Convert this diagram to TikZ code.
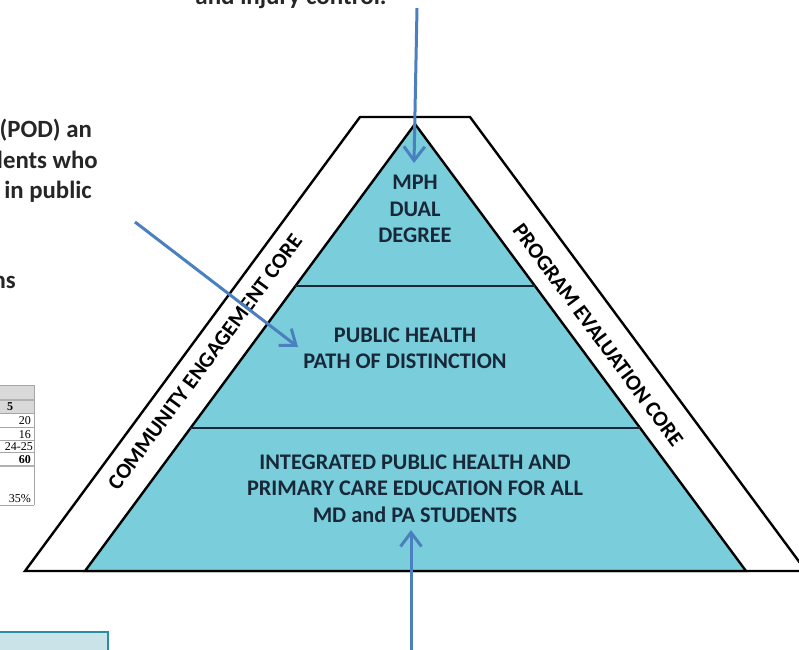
\documentclass[tikz,border=0pt]{standalone}
\usepackage{fontspec}
\setmainfont{Carlito}
\newfontfamily\tabfont{Liberation Serif}
\usetikzlibrary{arrows.meta}
\definecolor{teal1}{RGB}{122,205,218}
\definecolor{navy}{RGB}{24,40,56}
\definecolor{arrowblue}{RGB}{74,128,190}
\definecolor{boxfill}{RGB}{201,227,232}
\definecolor{boxline}{RGB}{42,141,163}
\definecolor{darktext}{RGB}{38,38,38}
\tikzset{
  outline/.style={draw=black, line width=2.4pt, line join=miter},
  divider/.style={draw=navy, line width=2.4pt},
  lvl/.style={font=\bfseries\fontsize{22.3}{26.3}\selectfont, text=navy, align=center, inner sep=0pt},
  core/.style={font=\bfseries\fontsize{21.8}{24}\selectfont, text=black, inner sep=0pt},
  side/.style={font=\bfseries\fontsize{24.8}{26}\selectfont, text=darktext, inner sep=0pt, anchor=base east},
  ptr/.style={draw=arrowblue, line width=3pt, -{Straight Barb[length=14pt,width=21pt]}},
  tcell/.style={draw=gray!70, line width=0.8pt},
  tnum/.style={font=\tabfont\fontsize{12}{12}\selectfont, inner sep=0pt, anchor=base east}
}
\begin{document}
\begin{tikzpicture}[x=1pt,y=-1pt]
\useasboundingbox (0,0) rectangle (799,649);
\begin{scope}
\clip (0,0) rectangle (799,649);
% outer band
\path[outline, fill=white] (25,571) -- (360,117) -- (470,117) -- (806,571) -- cycle;
% inner pyramid
\path[outline, fill=teal1] (85,571) -- (415,124) -- (746,571) -- cycle;
\coordinate (d1l) at (295,286); \coordinate (d1r) at (535,286);
\coordinate (d2l) at (190,428); \coordinate (d2r) at (640,428);
\draw[divider] (d1l) -- (d1r);
\draw[divider] (d2l) -- (d2r);
\draw[outline] (25,571) -- (806,571);

% level texts
\node[lvl] (top) at (415,209) {MPH\\DUAL\\DEGREE};
\node[lvl] (mid) at (405,348.5) {PUBLIC HEALTH\\PATH OF DISTINCTION};
\node[lvl] (bot) at (415,488.5) {INTEGRATED PUBLIC HEALTH AND\\PRIMARY CARE EDUCATION FOR ALL\\MD and PA STUDENTS};

% side bands
\node[core, rotate=53.5] (cec) at (205,362) {COMMUNITY ENGAGEMENT CORE};
\node[core, rotate=-53.5] (pec) at (598,335) {PROGRAM EVALUATION CORE};

% cropped text on the left and top
\node[font=\bfseries\fontsize{25}{27}\selectfont, text=darktext, inner sep=0pt, anchor=base] (t0) at (291,4) {and injury control.};
\node[side] (s1) at (92,137) {(POD) an};
\node[side] (s2) at (98,168) {lents who};
\node[side] (s3) at (92,198) {in public};
\node[side] (s4) at (16,288) {ns};

% table fragment
\fill[gray!30] (-2,385) rectangle (34,413);
\draw[tcell] (34,385) -- (34,505);
\draw[tcell] (-2,385) -- (34,385);
\draw[gray!60, line width=1.6pt] (-2,400) -- (34,400);
\draw[tcell] (-2,413) -- (34,413);
\draw[tcell] (-2,427) -- (34,427);
\draw[tcell] (-2,440) -- (34,440);
\draw[tcell] (-2,452) -- (34,452);
\draw[gray!60, line width=1.4pt] (-2,466) -- (34,466);
\draw[tcell] (-2,505) -- (34,505);
\node[tnum, anchor=base west] (c5) at (7,410.5) {\bfseries 5};
\node[tnum] (c20) at (31,424.5) {20};
\node[tnum] (c16) at (31,438) {16};
\node[tnum] (c24) at (33,450.5) {24-25};
\node[tnum] (c60) at (31,463.5) {\bfseries 60};
\node[tnum] (c35) at (31,502) {35\%};

% bottom-left box
\path[fill=boxfill, draw=boxline, line width=1.4pt] (-3,632) rectangle (108,660);

% arrows
\coordinate (a1s) at (417,8);
\coordinate (a1e) at (414,163);
\coordinate (a2s) at (135,222);
\coordinate (a2e) at (298,347);
\coordinate (a3s) at (411,660);
\coordinate (a3e) at (411,530);
\draw[ptr] (a1s) -- (a1e);
\draw[ptr] (a2s) -- (a2e);
\draw[ptr] (a3s) -- (a3e);
\end{scope}
\end{tikzpicture}
\end{document}
